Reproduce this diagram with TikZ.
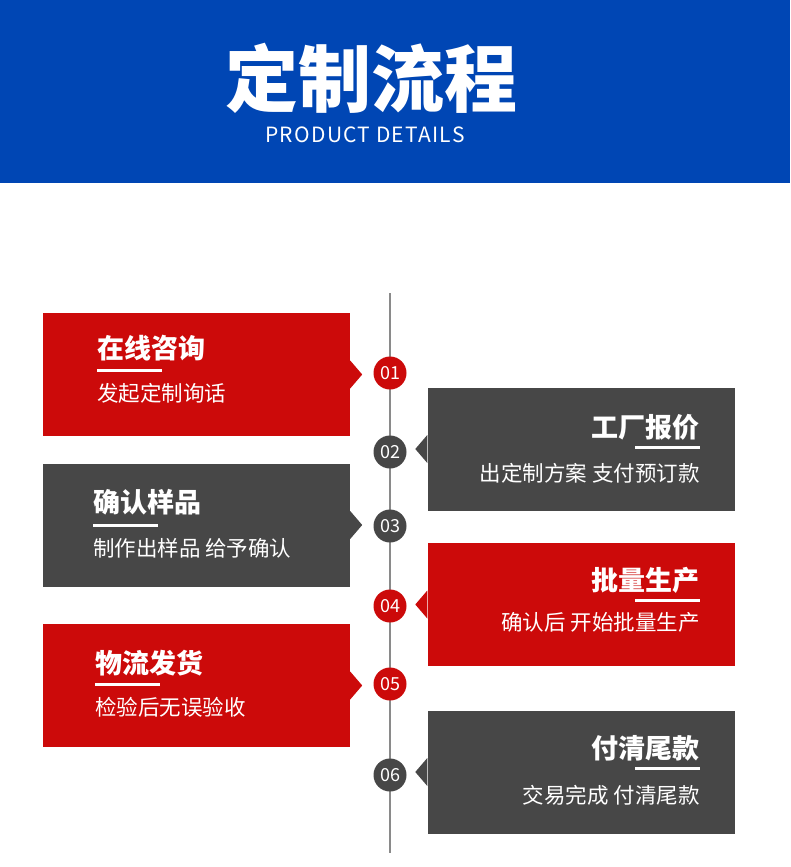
\documentclass[tikz,border=0pt]{standalone}
\usepackage{fontspec}
\setmainfont{Noto Sans CJK SC}
\usetikzlibrary{calc}
\definecolor{cblue}{HTML}{0046B4}
\definecolor{cred}{HTML}{CC0A0A}
\definecolor{cgray}{HTML}{474747}
\definecolor{cline}{HTML}{8A8A8A}
\tikzset{
  card/.style={rectangle, inner sep=0, minimum width=307pt, minimum height=123pt},
  ttl/.style={inner sep=0, text=white, font=\bfseries\fontsize{27}{30}\selectfont},
  desc/.style={inner sep=0, text=white, font=\fontsize{21.5}{24}\selectfont},
  uline/.style={draw=white, line width=3pt},
  dot/.style={circle, inner sep=0, minimum size=33pt, text=white, font=\fontsize{18}{20}\selectfont},
}
\begin{document}
\begin{tikzpicture}[x=1pt,y=-1pt]
\useasboundingbox (0,0) rectangle (790,867);
\fill[white] (0,0) rectangle (790,867);
\fill[cblue] (0,0) rectangle (790,183);
\node[inner sep=0, text=white, font=\bfseries\fontsize{73}{80}\selectfont] (head) at (371,78) {定制流程};
\node[inner sep=0, text=white, font=\fontsize{21}{24}\selectfont\addfontfeatures{LetterSpace=6}] (headsub) at (365,135) {PRODUCT DETAILS};

% timeline
\coordinate (ltop) at (390,293);
\coordinate (lbot) at (390,853);
\draw[cline, line width=1.3pt] (ltop) -- (lbot);

% cards
\node[card, fill=cred]  (b1) at (196.5,374.5) {};
\node[card, fill=cgray] (b2) at (581,449) {};
\node[card, fill=cgray] (b3) at (196.5,525) {};
\node[card, fill=cred]  (b4) at (581,604.5) {};
\node[card, fill=cred]  (b5) at (196.5,685.5) {};
\node[card, fill=cgray] (b6) at (581,772) {};

% pointers
\fill[cred]  ($(b1.east)+(0,-14)$) -- ($(b1.east)+(12,0)$) -- ($(b1.east)+(0,14)$) -- cycle;
\fill[cgray] ($(b3.east)+(0,-14)$) -- ($(b3.east)+(12,0)$) -- ($(b3.east)+(0,14)$) -- cycle;
\fill[cred]  ($(b5.east)+(0,-14)$) -- ($(b5.east)+(12,0)$) -- ($(b5.east)+(0,14)$) -- cycle;
\fill[cgray] ($(b2.west)+(0,-14)$) -- ($(b2.west)+(-12,0)$) -- ($(b2.west)+(0,14)$) -- cycle;
\fill[cred]  ($(b4.west)+(0,-14)$) -- ($(b4.west)+(-12,0)$) -- ($(b4.west)+(0,14)$) -- cycle;
\fill[cgray] ($(b6.west)+(0,-14)$) -- ($(b6.west)+(-12,0)$) -- ($(b6.west)+(0,14)$) -- cycle;

% circles
\node[dot, fill=cred]  (c1) at (390,373) {01};
\node[dot, fill=cgray] (c2) at (390,452) {02};
\node[dot, fill=cgray] (c3) at (390,526) {03};
\node[dot, fill=cred]  (c4) at (390,606) {04};
\node[dot, fill=cred]  (c5) at (390,684) {05};
\node[dot, fill=cgray] (c6) at (390,775) {06};

% card 1
\node[ttl, anchor=west] (t1) at (97,348) {在线咨询};
\draw[uline] (97,370) -- (162,370);
\node[desc, anchor=west] (d1) at (97,393) {发起定制询话};
% card 2
\node[ttl, anchor=east] (t2) at (700,427) {工厂报价};
\draw[uline] (635,447) -- (700,447);
\node[desc, anchor=east] (d2) at (700,473) {出定制方案 支付预订款};
% card 3
\node[ttl, anchor=west] (t3) at (93,502) {确认样品};
\draw[uline] (93,525) -- (158,525);
\node[desc, anchor=west] (d3) at (93,548) {制作出样品 给予确认};
% card 4
\node[ttl, anchor=east] (t4) at (700,580) {批量生产};
\draw[uline] (635,600) -- (700,600);
\node[desc, anchor=east] (d4) at (700,622) {确认后 开始批量生产};
% card 5
\node[ttl, anchor=west] (t5) at (95,663) {物流发货};
\draw[uline] (95,684) -- (160,684);
\node[desc, anchor=west] (d5) at (95,707) {检验后无误验收};
% card 6
\node[ttl, anchor=east] (t6) at (700,748) {付清尾款};
\draw[uline] (635,768) -- (700,768);
\node[desc, anchor=east] (d6) at (700,795) {交易完成 付清尾款};
\end{tikzpicture}
\end{document}
